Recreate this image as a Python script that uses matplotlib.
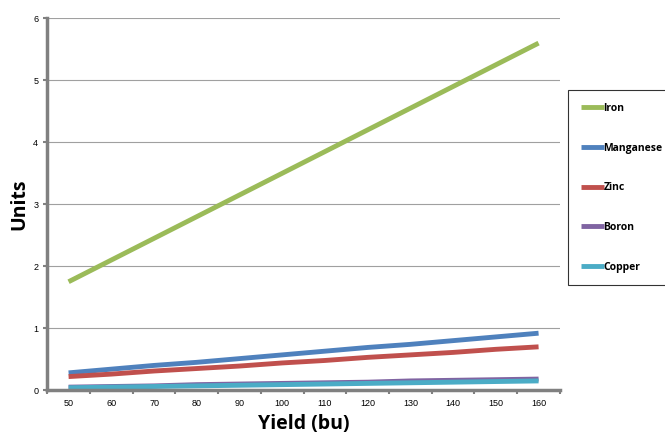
import matplotlib.pyplot as plt
import numpy as np

# Datos
yields = [50, 60, 70, 80, 90, 100, 110, 120, 130, 140, 150, 160]
iron = [1.75, 2.10, 2.45, 2.80, 3.15, 3.50, 3.85, 4.20, 4.55, 4.90, 5.25, 5.60]
manganese = [0.28, 0.34, 0.40, 0.45, 0.51, 0.57, 0.63, 0.69, 0.74, 0.80, 0.86, 0.92]
zinc = [0.22, 0.26, 0.31, 0.35, 0.39, 0.44, 0.48, 0.53, 0.57, 0.61, 0.66, 0.70]
boron = [0.05, 0.06, 0.07, 0.09, 0.10, 0.11, 0.12, 0.13, 0.15, 0.16, 0.17, 0.18]
copper = [0.04, 0.05, 0.06, 0.07, 0.08, 0.09, 0.10, 0.11, 0.12, 0.13, 0.14, 0.15]

series = [('Iron', iron, '#9BBB59'),
          ('Manganese', manganese, '#4F81BD'),
          ('Zinc', zinc, '#C0504D'),
          ('Boron', boron, '#8064A2'),
          ('Copper', copper, '#4BACC6')]

fig = plt.figure(figsize=(6.65, 4.36), dpi=100)
ax = fig.add_axes([0.071, 0.105, 0.771, 0.853])

x = np.arange(len(yields))
for nombre, valores, color in series:
    ax.plot(x, valores, color=color, lw=3.5, label=nombre, solid_capstyle='butt')

ax.set_xlim(-0.5, len(yields) - 0.5)
ax.set_ylim(0, 6)
ax.set_xticks(x)
ax.set_xticklabels([str(v) for v in yields], fontsize=6.5, family='Liberation Sans')
ax.set_xticks(np.arange(-0.5, len(yields)), minor=True)
ax.tick_params(axis='x', which='major', length=0, pad=6)
ax.tick_params(axis='x', which='minor', length=3, width=1.5, color='#808080')
ax.set_yticks(range(7))
ax.set_yticklabels([str(v) for v in range(7)], fontsize=6.5, family='Liberation Sans')
ax.tick_params(axis='y', length=3, width=1.5, color='#808080')
ax.grid(axis='y', color='#a0a0a0', lw=0.8)
ax.set_axisbelow(True)

for s in ['top', 'right']:
    ax.spines[s].set_visible(False)
for s in ['left', 'bottom']:
    ax.spines[s].set_color('#808080')
    ax.spines[s].set_linewidth(2.5)

ax.set_xlabel('Yield (bu)', fontsize=14, fontweight='bold', family='Open Sans', labelpad=5)
ax.set_ylabel('Units', fontsize=14, fontweight='bold', family='Open Sans', labelpad=3)

leg = ax.legend(loc='upper left', bbox_to_anchor=(1.016, 0.806), frameon=True,
                fancybox=False, edgecolor='black',
                prop={'family': 'Open Sans', 'weight': 'bold', 'size': 7.5},
                handlelength=2.2, handletextpad=0.0, labelspacing=2.75,
                borderpad=1.2, borderaxespad=0)
leg.get_frame().set_linewidth(0.8)

fig.savefig('out.png', dpi=100)
